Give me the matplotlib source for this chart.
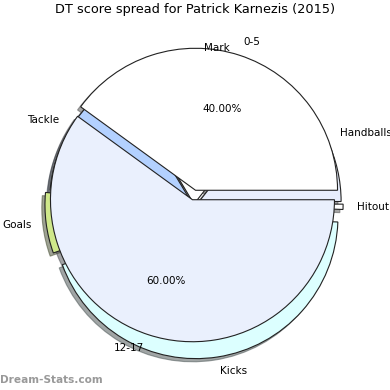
import matplotlib
matplotlib.use('Agg')
import matplotlib.pyplot as plt

# stat breakdown (drawn behind)
stat_labels = ['Handballs', 'Mark', 'Tackle', 'Goals', 'Kicks', 'Hitout']
stat_values = [14.4, 19.2, 15.0, 6.9, 43.9, 0.6]
stat_colors = ['#e8eefc', '#ffffff', '#b3d1ff', '#cfe88a', '#dcffff', '#ffffff']
stat_explode = [0.04, 0.0, 0.02, 0.05, 0.09, 0.05]

# score ranges (drawn on top)
score_labels = ['0-5', '12-17']
score_values = [40, 60]
score_colors = ['#ffffff', '#eaf0fd']
score_explode = [0.035, 0.035]

fig = plt.figure(figsize=(3.9, 3.9), dpi=100)
ax = fig.add_axes([0, 0, 1, 1])

shadow = {'ox': -0.016, 'oy': -0.016}
wp = dict(edgecolor='#222222', linewidth=0.8)

ax.pie(stat_values, labels=stat_labels, colors=stat_colors, explode=stat_explode,
       center=(0, -9 / 142), shadow=shadow, startangle=0,
       wedgeprops=wp, textprops=dict(fontsize=7.5))
ax.pie(score_values, labels=score_labels, colors=score_colors, explode=score_explode,
       autopct='%.2f%%', shadow=shadow, startangle=0,
       wedgeprops=wp, textprops=dict(fontsize=7.5))

ax.set_xlim(-194 / 142, 196 / 142)
ax.set_ylim(-195 / 142, 195 / 142)
ax.set_aspect('equal')
ax.axis('off')

fig.text(0.5, 1 - 10 / 390, 'DT score spread for Patrick Karnezis (2015)',
         ha='center', va='center', fontsize=9.3)
fig.text(0.0, 1 - 380 / 390, 'Dream-Stats.com', ha='left', va='center',
         fontsize=7.6, color='#999999', fontweight='bold')

fig.savefig('out.png', dpi=100)
